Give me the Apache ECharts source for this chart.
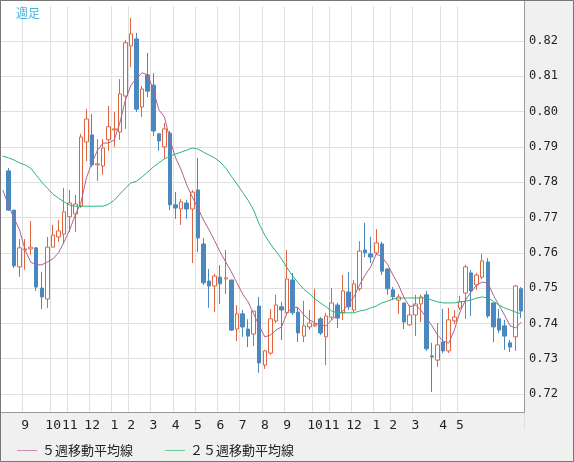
<!DOCTYPE html>
<html><head><meta charset="utf-8">
<script src="https://cdn.jsdelivr.net/npm/echarts@6/dist/echarts.min.js"></script>
<style>html,body{margin:0;padding:0;background:#f0f0f0}#c{width:574px;height:462px}</style>
</head><body><div id="c"></div>
<script>
const opens=[.7832,.7721,.7560,.7608,.7611,.7614,.7500,.7469,.7616,.7645,
.7653,.7702,.7710,.7733,.7914,.7934,.7849,.7846,.7920,.7948,
.7942,.8044,.8186,.8206,.8013,.8104,.8075,.7937,.7900,.7939,
.7736,.7724,.7741,.7724,.7778,.7625,.7520,.7506,.7531,.7526,
.7523,.7384,.7427,.7384,.7370,.7449,.7282,.7316,.7407,.7447,
.7430,.7523,.7432,.7364,.7390,.7393,.7413,.7362,.7418,.7452,
.7430,.7489,.7438,.7498,.7608,.7597,.7600,.7625,.7554,.7495,
.7466,.7458,.7396,.7424,.7455,.7481,.7308,.7296,.7347,.7322,
.7407,.7444,.7486,.7543,.7509,.7531,.7574,.7458,.7413,.7393,
.7345,.7362,.7498];
const closes=[.7721,.7563,.7614,.7611,.7616,.7503,.7475,.7616,.7650,.7662,
.7716,.7741,.7738,.7928,.7979,.7849,.7852,.7897,.7957,.7951,
.8050,.8195,.8220,.8007,.8064,.8058,.7945,.7917,.7951,.7736,
.7727,.7744,.7724,.7772,.7642,.7515,.7506,.7534,.7512,.7529,
.7381,.7427,.7390,.7364,.7435,.7288,.7322,.7413,.7452,.7438,
.7526,.7430,.7373,.7393,.7401,.7398,.7373,.7421,.7458,.7415,
.7492,.7447,.7512,.7605,.7600,.7588,.7628,.7548,.7498,.7475,
.7475,.7404,.7424,.7455,.7475,.7328,.7305,.7339,.7322,.7410,
.7418,.7461,.7560,.7492,.7537,.7577,.7421,.7390,.7381,.7364,
.7333,.7506,.7435];
const lows=[.7719,.7557,.7532,.7552,.7594,.7492,.7441,.7444,.7616,.7631,
.7625,.7659,.7659,.7727,.7860,.7843,.7804,.7821,.7889,.7900,
.7920,.7951,.8126,.7999,.7985,.8041,.7931,.7889,.7866,.7721,
.7696,.7679,.7696,.7571,.7602,.7509,.7444,.7433,.7455,.7483,
.7379,.7350,.7362,.7333,.7336,.7260,.7271,.7311,.7401,.7353,
.7424,.7424,.7347,.7347,.7382,.7390,.7367,.7282,.7410,.7387,
.7410,.7438,.7432,.7492,.7588,.7571,.7594,.7537,.7481,.7466,
.7427,.7384,.7393,.7364,.7404,.7322,.7206,.7277,.7316,.7316,
.7398,.7438,.7413,.7421,.7495,.7526,.7415,.7347,.7373,.7325,
.7319,.7322,.7415];
const highs=[.7840,.7721,.7639,.7639,.7690,.7616,.7546,.7645,.7679,.7693,
.7784,.7778,.7764,.7937,.8007,.7993,.7922,.7922,.8016,.7999,
.8092,.8203,.8265,.8223,.8073,.8166,.8109,.7937,.7968,.7945,
.7772,.7752,.7750,.7778,.7869,.7642,.7554,.7540,.7565,.7608,
.7523,.7452,.7438,.7412,.7435,.7475,.7325,.7441,.7481,.7461,
.7608,.7543,.7447,.7464,.7438,.7498,.7418,.7430,.7500,.7458,
.7537,.7546,.7523,.7633,.7685,.7645,.7667,.7631,.7557,.7503,
.7483,.7458,.7452,.7481,.7481,.7492,.7345,.7401,.7441,.7444,
.7438,.7478,.7566,.7551,.7543,.7597,.7585,.7458,.7441,.7410,
.7353,.7509,.7503];
// moving averages (first value = week before the first visible candle)
const ma5=[.7778,
.7735,.7699,.7665,.7608,.7574,.7566,.7566,.7574,.7583,.7600,
.7631,.7665,.7707,.7741,.7812,.7855,.7891,.7911,.7911,.7920,
.7968,.8033,.8075,.8095,.8110,.8104,.8061,.8005,.7985,.7920,
.7869,.7835,.7792,.7758,.7727,.7693,.7665,.7634,.7602,.7574,
.7546,.7515,.7484,.7461,.7427,.7393,.7362,.7367,.7381,.7390,
.7430,.7447,.7444,.7424,.7410,.7401,.7396,.7393,.7410,.7424,
.7435,.7455,.7475,.7509,.7537,.7560,.7597,.7588,.7568,.7537,
.7509,.7472,.7447,.7452,.7438,.7415,.7393,.7367,.7350,.7344,
.7381,.7432,.7466,.7489,.7509,.7517,.7515,.7480,.7452,.7424,
.7393,.7387,.7404];
const ma25=[.7874,
.7869,.7863,.7855,.7849,.7840,.7820,.7800,.7783,.7766,.7755,
.7744,.7735,.7732,.7732,.7732,.7732,.7732,.7732,.7738,.7749,
.7766,.7783,.7798,.7803,.7815,.7829,.7843,.7855,.7866,.7874,
.7880,.7885,.7891,.7897,.7894,.7885,.7877,.7869,.7857,.7840,
.7817,.7795,.7772,.7749,.7721,.7681,.7650,.7625,.7605,.7583,
.7557,.7534,.7515,.7497,.7484,.7469,.7458,.7447,.7435,.7430,
.7430,.7430,.7430,.7435,.7438,.7444,.7449,.7458,.7463,.7469,
.7472,.7472,.7472,.7472,.7472,.7472,.7466,.7461,.7458,.7458,
.7458,.7461,.7463,.7466,.7472,.7475,.7472,.7463,.7452,.7444,
.7438,.7432,.7427];
const monthIdx=[4,9,12,16,20,23,27,31,35,39,43,47,51,56,59,63,67,70,74,79,82];
const monthLabels=['9','10','11','12','1','2','3','4','5','6','7','8','9','10','11','12','1','2','3','4','5'];
const yTickLabels=['0.72','0.73','0.74','0.75','0.76','0.77','0.78','0.79','0.80','0.81','0.82'];

const N=opens.length+1;
const cats=[];for(let k=0;k<N;k++){const m=monthIdx.indexOf(k);cats.push(m>=0?monthLabels[m]:'');}
const candle=['-'];for(let i=0;i<opens.length;i++)candle.push([opens[i],closes[i],lows[i],highs[i]]);
const isMonth=(i)=>monthIdx.indexOf(i)>=0;
const font='"Noto Sans CJK JP", sans-serif';
const chart=echarts.init(document.getElementById('c'));
chart.setOption({
  animation:false,backgroundColor:'#f0f0f0',
  title:{text:'週足',left:11,top:2,z:70,textStyle:{color:'#3fb6e8',fontSize:12,fontWeight:'normal',fontFamily:font}},
  legend:{z:60,left:12,top:439,itemWidth:20,itemHeight:1,itemGap:32,icon:'path://M0,0H30V1H0Z',
    textStyle:{fontSize:13,color:'#222',fontFamily:font},
    data:['５週移動平均線','２５週移動平均線']},
  grid:[{left:-1,right:50,top:5.7,bottom:32.7,show:true,backgroundColor:'#fff',borderWidth:0},
        {left:-1,right:50,top:412,height:1,show:false}],
  xAxis:[{type:'category',data:cats,gridIndex:0,boundaryGap:true,
          axisLine:{show:false},axisTick:{show:false},axisLabel:{show:false},
          splitLine:{show:true,interval:(i)=>isMonth(i),lineStyle:{color:'#e0e0e0'}}},
         {type:'category',data:cats,gridIndex:1,z:60,boundaryGap:true,
          axisLine:{show:false},axisTick:{show:false},
          axisLabel:{interval:0,margin:6,fontSize:13,color:'#222',fontFamily:'"DejaVu Sans Mono", monospace'}}],
  yAxis:[{type:'value',gridIndex:0,position:'right',min:0.71,max:0.83,interval:0.01,
          axisLine:{show:false},axisTick:{show:false},
          axisLabel:{margin:5,fontSize:12,color:'#222',fontFamily:'"DejaVu Sans Mono", monospace',
            formatter:(v)=>{const s=v.toFixed(2);return yTickLabels.indexOf(s)>=0?s:'';}},
          splitLine:{lineStyle:{color:'#e0e0e0'}}},
         {type:'value',gridIndex:1,show:false}],
  graphic:[
    {type:'rect',z:1,shape:{x:0,y:0,width:524,height:6},style:{fill:'#fff'}},
    {type:'rect',z:50,shape:{x:0,y:412,width:524,height:50},style:{fill:'#f0f0f0'}},
    {type:'rect',z:55,shape:{x:0.5,y:0.5,width:524,height:412},style:{fill:null,stroke:'#999',lineWidth:1}},
    {type:'rect',z:55,shape:{x:0.5,y:0.5,width:573,height:461},style:{fill:null,stroke:'#777',lineWidth:1}}
  ],
  series:[
    {type:'candlestick',data:candle,barWidth:4,
     itemStyle:{color:'#fff',color0:'#4a88c0',borderColor:'#dd6540',borderColor0:'#4a88c0',borderWidth:1}},
    {name:'５週移動平均線',type:'line',data:ma5,showSymbol:false,symbol:'none',
     lineStyle:{color:'#b3608f',width:1},itemStyle:{color:'#b3608f'}},
    {name:'２５週移動平均線',type:'line',data:ma25,showSymbol:false,symbol:'none',
     lineStyle:{color:'#2db37a',width:1},itemStyle:{color:'#2db37a'}}
  ]
});
</script></body></html>
